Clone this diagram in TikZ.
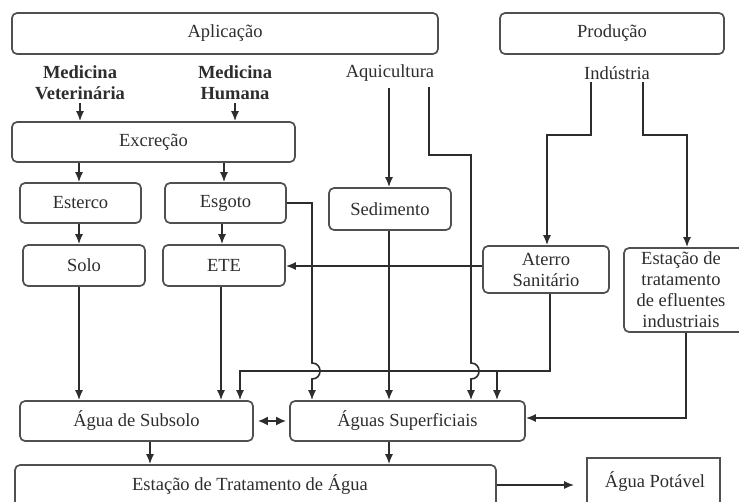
\documentclass[tikz,border=0pt]{standalone}
\usepackage{fontspec}
\setmainfont{Liberation Serif}
\usetikzlibrary{arrows.meta,fit,calc}
\definecolor{lncol}{RGB}{45,45,45}
\definecolor{bx}{RGB}{80,80,80}
\definecolor{tx}{RGB}{45,45,45}
\begin{document}
\begin{tikzpicture}[x=1pt,y=-1pt,
  every node/.style={font=\fontsize{18.5}{21}\selectfont, text=tx},
  box/.style={draw=bx, line width=1.7pt, rounded corners=5pt, inner sep=0pt},
  sqbox/.style={draw=bx, line width=1.7pt, inner sep=0pt},
  lbl/.style={inner sep=0pt, align=center},
  arr/.style={draw=lncol, line width=1.6pt, -{Latex[length=10pt,width=8pt]}},
  dbl/.style={draw=lncol, line width=1.8pt, {Latex[length=10pt,width=9pt]}-{Latex[length=10pt,width=9pt]}}]
\useasboundingbox (0,0) rectangle (739,501);
% boxes
\node[box, fit={(12,13) (438,54)}, label={[lbl]center:Aplicação}] (apl) {};
\node[box, fit={(500,13) (724,54)}, label={[lbl]center:Produção}] (prod) {};
\node[box, fit={(12,122) (295,162)}, label={[lbl]center:Excreção}] (exc) {};
\node[box, fit={(20,183) (141,223)}, label={[lbl]center:Esterco}] (est) {};
\node[box, fit={(165,183) (286,223)}, label={[lbl]center:Esgoto}] (esg) {};
\node[box, fit={(329,188) (451,230)}, label={[lbl]center:Sedimento}] (sed) {};
\node[box, fit={(23,245) (145,286)}, label={[lbl]center:Solo}] (solo) {};
\node[box, fit={(163,245) (285,286)}, label={[lbl]center:ETE}] (ete) {};
\node[box, fit={(483,246) (609,293)}, label={[lbl]center:{Aterro\\Sanitário}}] (ater) {};
\node[box, fit={(624,248) (745,332)}] (efl) {};
\node[lbl] at (681,290) {Estação de\\tratamento\\de efluentes\\industriais};
\node[box, fit={(20,401) (253,441)}, label={[lbl]center:Água de Subsolo}] (sub) {};
\node[box, fit={(290,401) (525,441)}, label={[lbl]center:Águas Superficiais}] (sup) {};
\node[box, fit={(15,465) (496,515)}] (eta) {};
\node[lbl] at (250,485) {Estação de Tratamento de Água};
\node[sqbox, fit={(587,458) (720,515)}] (pot) {};
\node[lbl] at (655,482) {Água Potável};
% labels
\node[lbl, font=\fontsize{18.5}{21}\selectfont\bfseries] (medvet) at (80,83) {Medicina\\Veterinária};
\node[lbl, font=\fontsize{18.5}{21}\selectfont\bfseries] (medhum) at (235,83) {Medicina\\Humana};
\node[lbl] (aqui) at (390,73) {Aquicultura};
\node[lbl] (ind) at (617,73) {Indústria};
% coordinates
\coordinate (a1) at (429,87);
\coordinate (i1) at (591,82);
\coordinate (i2) at (643,82);
% connectors
\draw[arr] ($(medvet.south)+(0,3)$) -- (medvet.south |- exc.north);
\draw[arr] ($(medhum.south)+(0,3)$) -- (medhum.south |- exc.north);
\draw[arr] (exc.south -| 79,0) -- (est.north -| 79,0);
\draw[arr] (exc.south -| 224,0) -- (esg.north -| 224,0);
\draw[arr] (est.south -| 79,0) -- (solo.north -| 79,0);
\draw[arr] (esg.south -| 222,0) -- (ete.north -| 222,0);
\draw[arr] ($(aqui.south -| 389,0)+(0,6)$) -- (sed.north -| 389,0);
\draw[arr] (a1) -- (429,155) -- (471,155) -- (471,363)
  .. controls (481.7,363) and (481.7,379) .. (471,379) -- (sup.north -| 471,0);
\draw[arr] (i1) -- (591,135) -- (547,135) -- (ater.north -| 547,0);
\draw[arr] (i2) -- (643,135) -- (687,135) -- (efl.north -| 687,0);
\draw[arr] (ater.west |- 0,266) -- (ete.east |- 0,266);
\draw[arr] (esg.east |- 0,203) -- (312,203) -- (312,363)
  .. controls (322.7,363) and (322.7,379) .. (312,379) -- (sup.north -| 312,0);
\draw[arr] (sed.south -| 389,0) -- (sup.north -| 389,0);
\draw[arr] (ater.south -| 550,0) -- (550,371) -- (240,371) -- (sub.north -| 240,0);
\draw[arr] (497,371) -- (sup.north -| 497,0);
\draw[arr] (solo.south -| 79,0) -- (sub.north -| 79,0);
\draw[arr] (ete.south -| 221,0) -- (sub.north -| 221,0);
\draw[dbl] ($(sub.east |- 0,421)+(4,0)$) -- ($(sup.west |- 0,421)+(-3,0)$);
\draw[arr] (efl.south -| 686,0) -- (686,418) -- (sup.east |- 0,418);
\draw[arr] (sub.south -| 150,0) -- (eta.north -| 150,0);
\draw[arr] (sup.south -| 389,0) -- (eta.north -| 389,0);
\draw[arr] (eta.east |- 0,485) -- ($(pot.west |- 0,485)+(-12,0)$);
\end{tikzpicture}
\end{document}
